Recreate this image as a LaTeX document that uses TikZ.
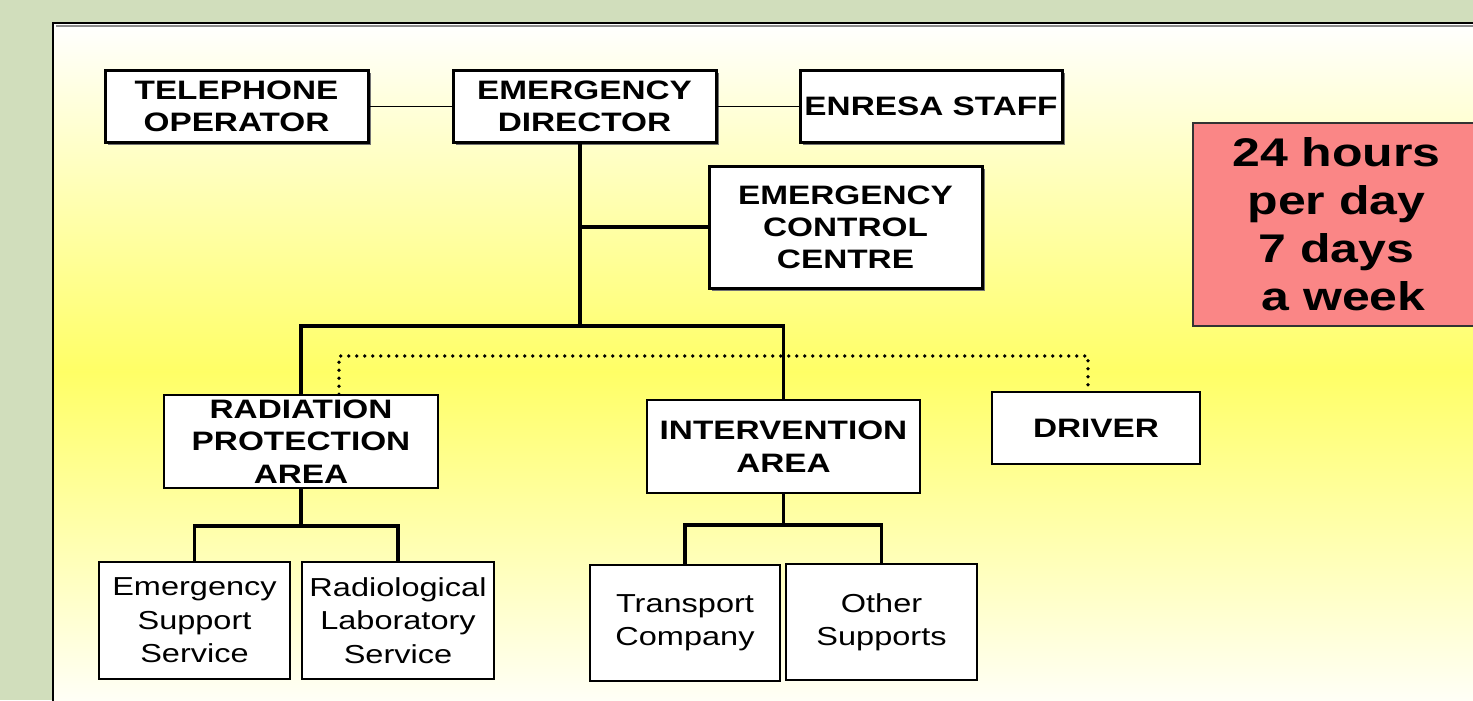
\documentclass[tikz,border=0pt]{standalone}
\usepackage{fontspec}
\setmainfont{Liberation Sans}[FakeStretch=1.25]
\usetikzlibrary{shadows}

\definecolor{bggreen}{RGB}{209,222,188}
\definecolor{panelyellow}{RGB}{255,255,102}
\definecolor{salmon}{RGB}{250,134,134}

\tikzset{every picture/.style={line width=0.75pt}}
\tikzset{
  headbox/.style={draw, line width=2.25pt, fill=white, align=center, inner sep=0pt,
    font=\fontsize{20}{24}\selectfont\bfseries,
    drop shadow={shadow xshift=2.5pt, shadow yshift=-2.5pt, fill=black!55, opacity=1}},
  areabox/.style={draw, line width=1.1pt, fill=white, align=center, inner sep=0pt,
    font=\fontsize{20}{24.5}\selectfont\bfseries},
  unitbox/.style={draw, line width=1.1pt, fill=white, align=center, inner sep=0pt,
    font=\fontsize{19.5}{25}\selectfont},
  clockbox/.style={draw=black!80, line width=1.1pt, fill=salmon, align=center, inner sep=0pt,
    font=\fontsize{30}{36}\selectfont\bfseries},
  tree/.style={line width=2.7pt},
  link/.style={line width=0.75pt},
  dotlink/.style={line width=2.7pt, line cap=round, dash pattern=on 0pt off 6pt},
}

\begin{document}
\begin{tikzpicture}[x=0.75pt,y=0.75pt,yscale=-1,xscale=1]
\clip (0,0) rectangle (1473,700);

% background and panel
\fill[bggreen] (0,0) rectangle (1473,700);
\shade[top color=white, bottom color=white, middle color=panelyellow] (53,23) rectangle (1480,720);
\draw[black!45, line width=1pt] (56,26) -- (1480,26);
\draw[line width=2.2pt] (53,710) -- (53,23) -- (1480,23);

% top row
\node[headbox, minimum width=197.25pt, minimum height=54pt] (tel) at (236.5,106) {TELEPHONE\\OPERATOR};
\node[headbox, minimum width=197.25pt, minimum height=54pt] (dir) at (584.5,106) {EMERGENCY\\DIRECTOR};
\node[headbox, minimum width=196.5pt, minimum height=54pt] (staff) at (931,106) {ENRESA STAFF};
\node[headbox, minimum width=204.75pt, minimum height=91.5pt] (ecc) at (845.5,227) {EMERGENCY\\CONTROL\\CENTRE};

% areas
\node[areabox, minimum width=205.5pt, minimum height=69.75pt] (rpa) at (301,441.5) {RADIATION\\PROTECTION\\AREA};
\node[areabox, minimum width=204.75pt, minimum height=69.75pt] (int) at (783.5,446.5) {INTERVENTION\\AREA};
\node[areabox, minimum width=156pt, minimum height=54pt] (drv) at (1096,428) {DRIVER};

% units
\node[unitbox, minimum width=143.25pt, minimum height=87.75pt] (ess) at (194.5,620.5) {Emergency\\Support\\Service};
\node[unitbox, minimum width=144pt, minimum height=87.75pt] (rls) at (398,620.5) {Radiological\\Laboratory\\Service};
\node[unitbox, minimum width=142.5pt, minimum height=87pt] (tra) at (685,623) {Transport\\Company};
\node[unitbox, minimum width=143.25pt, minimum height=87pt] (oth) at (881.5,622) {Other\\Supports};

% 24/7 box
\node[clockbox, minimum width=215.25pt, minimum height=152.25pt] (clock) at (1336.5,224.5) {24 hours\\per day\\7 days\\\ a week};

% connectors
\coordinate (hub) at (580,326);
\coordinate (dotL) at (339,356);
\coordinate (rpaj) at (304,526);
\coordinate (intj) at (782,525);

\draw[link] (tel.east) -- (dir.west);
\draw[link] (dir.east) -- (staff.west);
\draw[tree] (dir.south -| hub) -- (hub);
\draw[tree] (hub |- ecc.west) -- (ecc.west);
\draw[tree] (rpa.north) -- (rpa.north |- hub) -- (int.north |- hub) -- (int.north);
\draw[dotlink] (dotL |- rpa.north) -- (dotL) -- ([xshift=-6pt]dotL -| drv.north) -- ([xshift=-6pt]drv.north);
\draw[tree] (rpa.south) -- (rpa.south |- rpaj);
\draw[tree] (ess.north) -- (ess.north |- rpaj) -- (rls.north |- rpaj) -- (rls.north);
\draw[tree] (int.south) -- (int.south |- intj);
\draw[tree] (tra.north) -- (tra.north |- intj) -- (oth.north |- intj) -- (oth.north);

\end{tikzpicture}
\end{document}
